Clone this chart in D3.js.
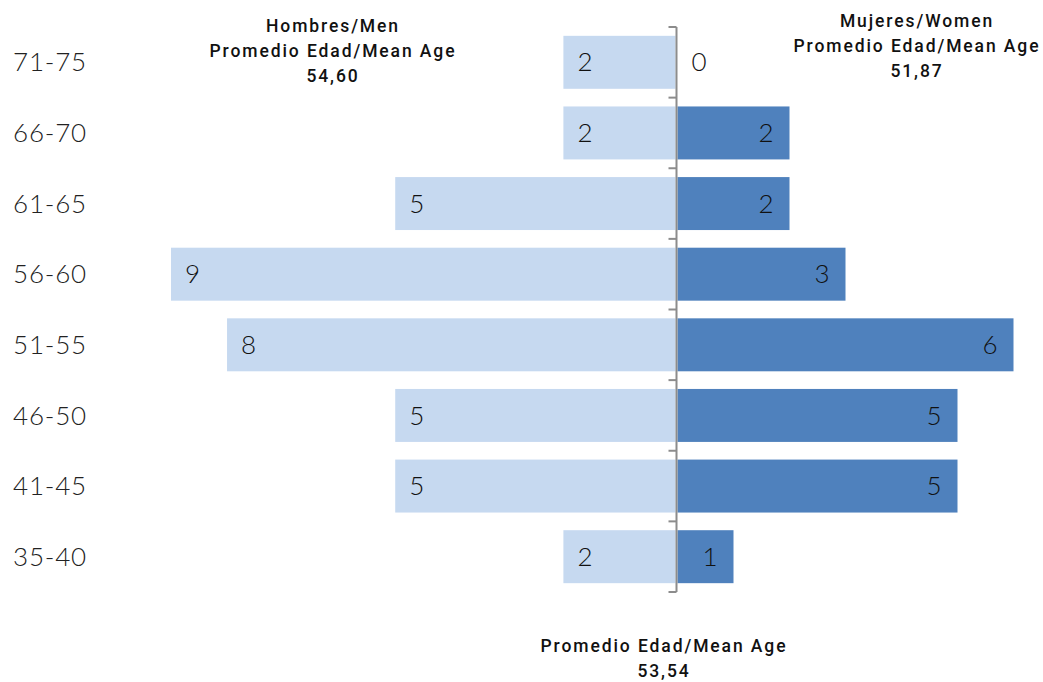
<!DOCTYPE html>
<html>
<head>
<meta charset="utf-8">
<script src="https://cdn.jsdelivr.net/npm/d3@7"></script>
<style>
  body { margin: 0; background: #fff; }
  .cat { font-family: Lato, sans-serif; font-weight: 300; font-size: 26px; letter-spacing: 0.8px; fill: #222; }
  .val { font-family: Lato, sans-serif; font-weight: 300; font-size: 26px; fill: #111; }
  .note { font-family: Roboto, sans-serif; font-weight: 500; font-size: 17.5px; letter-spacing: 1.9px; fill: #111; }
</style>
</head>
<body>
<script>
// age groups, bottom to top
var ageGroups = ["35-40", "41-45", "46-50", "51-55", "56-60", "61-65", "66-70", "71-75"];
var men   = [2, 5, 5, 8, 9, 5, 2, 2];
var women = [1, 5, 5, 6, 3, 2, 2, 0];

var menNote   = ["Hombres/Men", "Promedio Edad/Mean Age", "54,60"];
var womenNote = ["Mujeres/Women", "Promedio Edad/Mean Age", "51,87"];
var totalNote = ["Promedio Edad/Mean Age", "53,54"];

var w = 1043, h = 682;
var axisX = 676.5;

var svg = d3.select("body").append("svg")
  .attr("width", w)
  .attr("height", h);

var y = d3.scaleBand()
  .domain(ageGroups.slice().reverse())
  .range([27, 592])
  .paddingInner(0.25)
  .paddingOuter(0.125);

var xMen = d3.scaleLinear().domain([0, 9]).range([675.5, 171]);
var xWomen = d3.scaleLinear().domain([0, 6]).range([677.5, 1013.5]);

var rows = ageGroups.map(function(g, i) {
  return { group: g, men: men[i], women: women[i] };
});

// men bars
svg.append("g").selectAll("rect")
  .data(rows)
  .enter().append("rect")
  .attr("x", function(d) { return xMen(d.men); })
  .attr("y", function(d) { return y(d.group); })
  .attr("width", function(d) { return xMen(0) - xMen(d.men); })
  .attr("height", y.bandwidth())
  .style("fill", "#c6d9f0");

// women bars
svg.append("g").selectAll("rect")
  .data(rows)
  .enter().append("rect")
  .attr("x", xWomen(0))
  .attr("y", function(d) { return y(d.group); })
  .attr("width", function(d) { return xWomen(d.women) - xWomen(0); })
  .attr("height", y.bandwidth())
  .style("fill", "#4f81bd");

// center axis with ticks at band edges
var axis = svg.append("g").attr("transform", "translate(" + axisX + ",0)");
axis.append("line")
  .attr("y1", 27).attr("y2", 592)
  .style("stroke", "#8c8c8c").style("stroke-width", 2);
var edges = d3.range(ageGroups.length + 1).map(function(i) {
  return 27 + i * y.step();
});
axis.selectAll("line.tick")
  .data(edges)
  .enter().append("line")
  .attr("class", "tick")
  .attr("x1", -8).attr("x2", 0)
  .attr("y1", function(d) { return d; })
  .attr("y2", function(d) { return d; })
  .style("stroke", "#8c8c8c").style("stroke-width", 2);

// category labels
svg.append("g").selectAll("text")
  .data(ageGroups)
  .enter().append("text")
  .attr("class", "cat")
  .attr("x", 13)
  .attr("y", function(d) { return y(d) + y.bandwidth() / 2; })
  .attr("dy", "0.35em")
  .text(function(d) { return d; });

// value labels
svg.append("g").selectAll("text")
  .data(rows)
  .enter().append("text")
  .attr("class", "val")
  .attr("x", function(d) { return xMen(d.men) + 14; })
  .attr("y", function(d) { return y(d.group) + y.bandwidth() / 2; })
  .attr("dy", "0.35em")
  .text(function(d) { return d.men; });

svg.append("g").selectAll("text")
  .data(rows)
  .enter().append("text")
  .attr("class", "val")
  .attr("x", function(d) { return d.women > 0 ? xWomen(d.women) - 16 : xWomen(0) + 14; })
  .attr("text-anchor", function(d) { return d.women > 0 ? "end" : "start"; })
  .attr("y", function(d) { return y(d.group) + y.bandwidth() / 2; })
  .attr("dy", "0.35em")
  .text(function(d) { return d.women; });

// notes
function note(lines, cx, top) {
  svg.append("g").selectAll("text")
    .data(lines)
    .enter().append("text")
    .attr("class", "note")
    .attr("text-anchor", "middle")
    .attr("x", cx + 1)
    .attr("y", function(d, i) { return top + i * 25; })
    .text(function(d) { return d; });
}
note(menNote, 332, 32);
note(womenNote, 916, 27);
note(totalNote, 663, 652);
</script>
</body>
</html>
